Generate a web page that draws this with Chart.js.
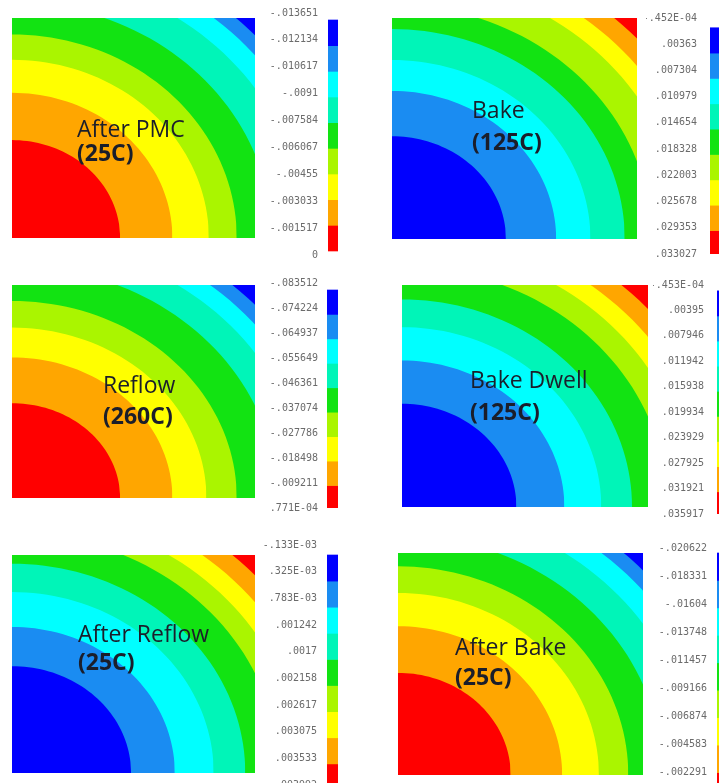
<!DOCTYPE html>
<html>
<head>
<meta charset="utf-8">
<script src="https://cdn.jsdelivr.net/npm/chart.js@4.4.1/dist/chart.umd.min.js"></script>
<style>
  html, body { margin: 0; padding: 0; background: #fff; }
  body { width: 719px; height: 783px; overflow: hidden; position: relative; }
  canvas { position: absolute; }
</style>
</head>
<body>
<script>
// contour band colours, minimum (blue) to maximum (red)
const bandColors = ["#0000ff", "#1a8cf2", "#00ffff", "#00f5b8", "#12e312", "#aaf500", "#ffff00", "#ffa600", "#ff0000"];

// colour bar labels, top (minimum) to bottom (maximum)
const ticksAfterPmc = ["-.013651", "-.012134", "-.010617", "-.0091", "-.007584", "-.006067", "-.00455", "-.003033", "-.001517", "0"];
const ticksBake = ["-.452E-04", ".00363", ".007304", ".010979", ".014654", ".018328", ".022003", ".025678", ".029353", ".033027"];
const ticksReflow = ["-.083512", "-.074224", "-.064937", "-.055649", "-.046361", "-.037074", "-.027786", "-.018498", "-.009211", ".771E-04"];
const ticksBakeDwell = ["-.453E-04", ".00395", ".007946", ".011942", ".015938", ".019934", ".023929", ".027925", ".031921", ".035917"];
const ticksAfterReflow = ["-.133E-03", ".325E-03", ".783E-03", ".001242", ".0017", ".002158", ".002617", ".003075", ".003533", ".003992"];
const ticksAfterBake = ["-.020622", "-.018331", "-.01604", "-.013748", "-.011457", "-.009166", "-.006874", "-.004583", "-.002291", "0"];

// contour boundaries, distance from the corner (1 = plot side), inner to outer
const radiiAfterPmc = [0.445, 0.66, 0.81, 0.925, 1.07, 1.21, 1.30, 1.36];
const radiiBake = [0.465, 0.67, 0.81, 0.95, 1.06, 1.19, 1.27, 1.35];
const radiiReflow = [0.445, 0.66, 0.80, 0.925, 1.09, 1.21, 1.29, 1.35];
const radiiBakeDwell = [0.465, 0.66, 0.81, 0.935, 1.08, 1.18, 1.26, 1.34];
const radiiAfterReflow = [0.49, 0.67, 0.83, 0.96, 1.10, 1.19, 1.27, 1.35];
const radiiAfterBake = [0.46, 0.67, 0.82, 0.94, 1.08, 1.21, 1.30, 1.36];

// stage names; hot = corner holds the maximum (red)
const stages = [
  { title: ["After PMC", "(25C)"], ticks: ticksAfterPmc, radii: radiiAfterPmc, hot: true },
  { title: ["Bake", "(125C)"], ticks: ticksBake, radii: radiiBake, hot: false },
  { title: ["Reflow", "(260C)"], ticks: ticksReflow, radii: radiiReflow, hot: true },
  { title: ["Bake Dwell", "(125C)"], ticks: ticksBakeDwell, radii: radiiBakeDwell, hot: false },
  { title: ["After Reflow", "(25C)"], ticks: ticksAfterReflow, radii: radiiAfterReflow, hot: false },
  { title: ["After Bake", "(25C)"], ticks: ticksAfterBake, radii: radiiAfterBake, hot: true }
];

// page layout of each panel: plot box, title position, colour bar
const layouts = [
  { plot: [12, 18, 243, 220], text: [65, 119, 143], bar: { x: 328, w: 10, top: 20, bot: 251, lt: 13, lb: 255, pad: 2 } },
  { plot: [392, 18, 245, 221], text: [80, 100, 132], bar: { x: 710, w: 10, top: 25, bot: 259, lt: 15, lb: 257, pad: 5 } },
  { plot: [12, 285, 243, 213], text: [91, 108, 139], bar: { x: 327, w: 11, top: 290, bot: 510, lt: 283, lb: 508, pad: 1 } },
  { plot: [402, 285, 246, 222], text: [68, 103, 135], bar: { x: 717, w: 10, top: 288, bot: 520, lt: 282, lb: 517, pad: 5 } },
  { plot: [12, 555, 243, 218], text: [66, 87, 115], bar: { x: 327, w: 11, top: 555, bot: 790, lt: 545, lb: 785, pad: 2 } },
  { plot: [398, 553, 245, 222], text: [57, 102, 132], bar: { x: 717, w: 10, top: 553, bot: 800, lt: 548, lb: 800, pad: 2 } }
];

function quarterArc(r) {
  const pts = [];
  for (let a = 0; a <= 90; a += 2) {
    const t = a * Math.PI / 180;
    pts.push({ x: r * Math.sin(t), y: r * Math.cos(t) });
  }
  return pts;
}

function makeCanvas(x, y, w, h) {
  const c = document.createElement("canvas");
  c.width = w; c.height = h;
  c.style.left = x + "px"; c.style.top = y + "px";
  c.style.width = w + "px"; c.style.height = h + "px";
  document.body.appendChild(c);
  return c;
}

const backdrop = {
  id: "backdrop",
  beforeDraw(chart, args, opts) {
    const { ctx, chartArea: a } = chart;
    ctx.save();
    ctx.fillStyle = opts.color;
    ctx.fillRect(a.left, a.top, a.width, a.height);
    ctx.restore();
  }
};

const stageTitle = {
  id: "stageTitle",
  afterDraw(chart, args, opts) {
    const ctx = chart.ctx;
    ctx.save();
    ctx.fillStyle = "#1b1e2b";
    ctx.textBaseline = "alphabetic";
    ctx.font = "400 23px 'Open Sans'";
    ctx.fillText(opts.lines[0], opts.x, opts.y1);
    ctx.font = "700 23px 'Open Sans'";
    ctx.fillText(opts.lines[1], opts.x, opts.y2);
    ctx.restore();
  }
};

stages.forEach((s, i) => {
  const L = layouts[i];
  const colors = s.hot ? bandColors.slice().reverse() : bandColors.slice();
  const [px, py, pw, ph] = L.plot;

  new Chart(makeCanvas(px, py, pw, ph), {
    type: "scatter",
    data: {
      datasets: s.radii.map((r, k) => ({
        data: quarterArc(r),
        showLine: true,
        borderWidth: 0,
        pointRadius: 0,
        backgroundColor: colors[k],
        fill: "origin"
      }))
    },
    options: {
      responsive: false,
      animation: false,
      events: [],
      layout: { padding: 0 },
      scales: {
        x: { display: false, min: 0, max: 1 },
        y: { display: false, min: 0, max: 1 }
      },
      plugins: {
        legend: { display: false },
        tooltip: { enabled: false },
        backdrop: { color: colors[8] },
        stageTitle: { lines: s.title, x: L.text[0], y1: L.text[1], y2: L.text[2] }
      }
    },
    plugins: [backdrop, stageTitle]
  });

  // colour bar
  const b = L.bar;
  const axisW = 64, edge = 8;
  const span = (b.lb - b.lt) * 9 / (b.bot - b.top);
  const yMin = -(b.top - b.lt) / (b.lb - b.lt) * span;
  new Chart(makeCanvas(b.x - axisW, b.lt - edge, axisW + b.w, b.lb - b.lt + 2 * edge), {
    type: "bar",
    data: {
      labels: [""],
      datasets: bandColors.map(c => ({
        data: [1],
        backgroundColor: c,
        borderWidth: 0,
        barPercentage: 1,
        categoryPercentage: 1,
        yAxisID: "y"
      }))
    },
    options: {
      responsive: false,
      animation: false,
      events: [],
      layout: { padding: { top: edge, bottom: edge, left: 0, right: 0 } },
      scales: {
        x: { display: false, stacked: true },
        y: { display: false, stacked: true, reverse: true, min: yMin, max: yMin + span },
        tk: {
          type: "linear",
          position: "left",
          reverse: true,
          min: 0,
          max: 9,
          grid: { display: false },
          border: { display: false },
          afterFit: ax => { ax.width = axisW; },
          ticks: {
            stepSize: 1,
            autoSkip: false,
            padding: b.pad,
            color: "#6b6b6b",
            font: { family: "'DejaVu Sans Mono'", size: 10 },
            callback: v => s.ticks[Math.round(v)]
          }
        }
      },
      plugins: { legend: { display: false }, tooltip: { enabled: false } }
    }
  });
});
</script>
</body>
</html>
